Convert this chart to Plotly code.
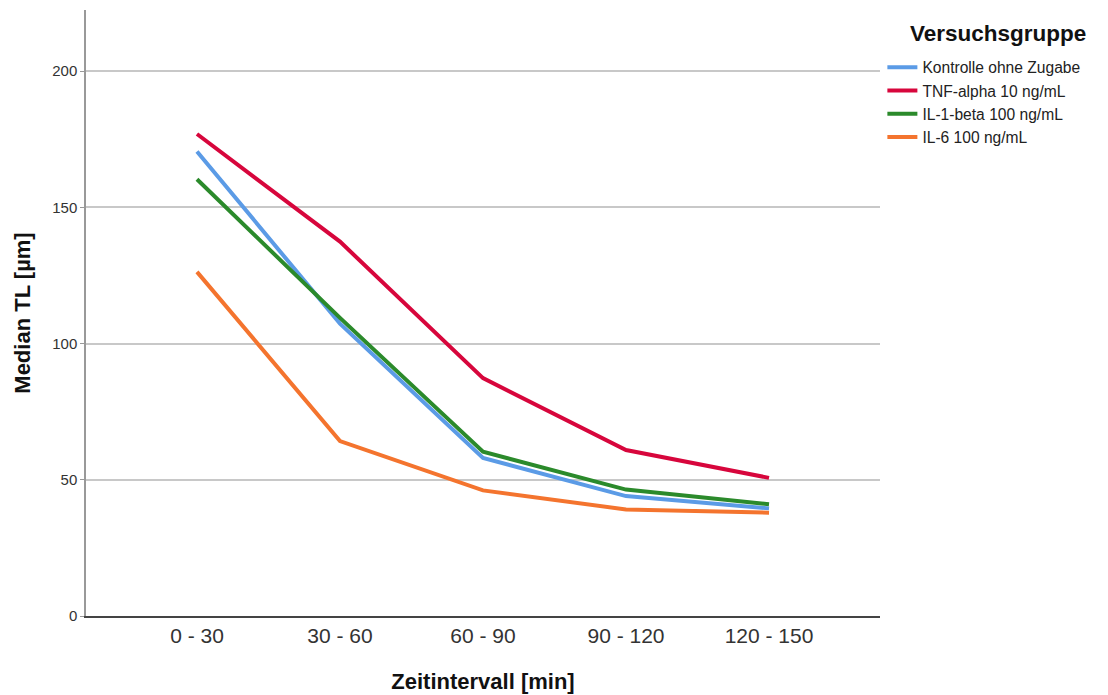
import plotly.graph_objects as go

categories = ["0 - 30", "30 - 60", "60 - 90", "90 - 120", "120 - 150"]
kontrolle = [170.5, 107.3, 58.0, 44.0, 39.5]
tnf = [176.9, 137.4, 87.3, 60.9, 50.7]
il1 = [160.3, 109.4, 60.3, 46.4, 41.0]
il6 = [126.3, 64.2, 46.1, 39.1, 37.9]

series = [
    ("Kontrolle ohne Zugabe", kontrolle, "#5b9be6"),
    ("TNF-alpha 10 ng/mL", tnf, "#d7063c"),
    ("IL-1-beta 100 ng/mL", il1, "#2b8a2b"),
    ("IL-6 100 ng/mL", il6, "#f4742e"),
]

fig = go.Figure()
for name, vals, col in series:
    fig.add_trace(go.Scatter(x=list(range(len(categories))), y=vals, mode="lines",
                             name=name, line=dict(color=col, width=4)))

fig.update_layout(
    width=1108, height=695,
    margin=dict(l=86, r=228, t=10, b=79, autoexpand=False),
    paper_bgcolor="white", plot_bgcolor="white",
    font=dict(family="Liberation Sans, Arial, sans-serif", color="#222"),
    showlegend=True,
    legend=dict(
        x=1.003, y=0.933, xanchor="left", yanchor="top",
        font=dict(size=15.6, color="#222"),
        tracegroupgap=0, itemwidth=30,
    ),
    annotations=[dict(
        text="<b>Versuchsgruppe</b>", xref="paper", yref="paper",
        x=1.148, y=0.962, xanchor="center", yanchor="middle",
        showarrow=False, font=dict(size=22.5, color="#111"),
    )],
    xaxis=dict(
        tickmode="array", tickvals=list(range(len(categories))), ticktext=categories,
        range=[-0.776, 4.776], showgrid=False, zeroline=False,
        showline=True, linecolor="#444", linewidth=1.5,
        ticks="", tickfont=dict(size=21, color="#333"),
        title=dict(text="<b>Zeitintervall [min]</b>", font=dict(size=22, color="#111"), standoff=28),
    ),
    yaxis=dict(
        range=[0, 222.4], tickvals=[0, 50, 100, 150, 200],
        showgrid=True, gridcolor="#c8c8c8", gridwidth=1.5, zeroline=False,
        showline=True, linecolor="#999", linewidth=1.5,
        ticks="outside", ticklen=4, tickcolor="#999",
        tickfont=dict(size=15, color="#333"),
        title=dict(text="<b>Median TL [µm]</b>", font=dict(size=22, color="#111"), standoff=16),
    ),
)

fig.write_html("out.html")
